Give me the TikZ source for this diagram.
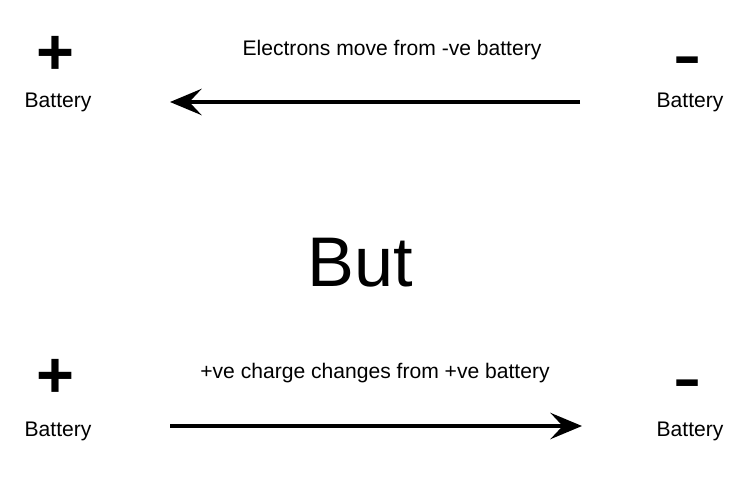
\documentclass[tikz,border=0pt]{standalone}
\usepackage{fontspec}
\setmainfont{Liberation Sans}
\usetikzlibrary{arrows.meta, positioning}

\begin{document}
\begin{tikzpicture}[
    x=0.02cm, y=-0.02cm,
    node distance=0.8cm,
    sign/.style={font=\bfseries\fontsize{37}{40}\selectfont, inner sep=0pt, anchor=base},
    label/.style={font=\fontsize{12}{14}\selectfont, inner sep=0pt},
    flow/.style={line width=1.8pt, -{Stealth[length=18pt, width=15pt, inset=7pt]}}
]
    \useasboundingbox (0,0) rectangle (750,500);

    % top row
    \node[sign] (plusTop) at (55,74) {+};
    \node[label] (batTopL) at (58,102) {Battery};
    \node[sign] (minusTop) at (688,74) {\scalebox{1.3}[0.85]{-}};
    \node[label] (batTopR) at (690,102) {Battery};
    \node[label] (txtTop) at (392,50) {Electrons move from -ve battery};
    \coordinate (topStart) at (580,102);
    \coordinate (topEnd) at (170,102);
    \draw[flow] (topStart) -- (topEnd);

    \node[font=\fontsize{40}{48}\selectfont, inner sep=0pt] (but) at (360,263) {But};

    % bottom row
    \node[sign] (plusBot) at (55,397) {+};
    \node[label] (batBotL) at (58,431) {Battery};
    \node[sign] (minusBot) at (688,397) {\scalebox{1.3}[0.85]{-}};
    \node[label] (batBotR) at (690,431) {Battery};
    \node[label] (txtBot) at (375,373) {+ve charge changes from +ve battery};
    \coordinate (botStart) at (170,426);
    \coordinate (botEnd) at (582,426);
    \draw[flow] (botStart) -- (botEnd);
\end{tikzpicture}
\end{document}
